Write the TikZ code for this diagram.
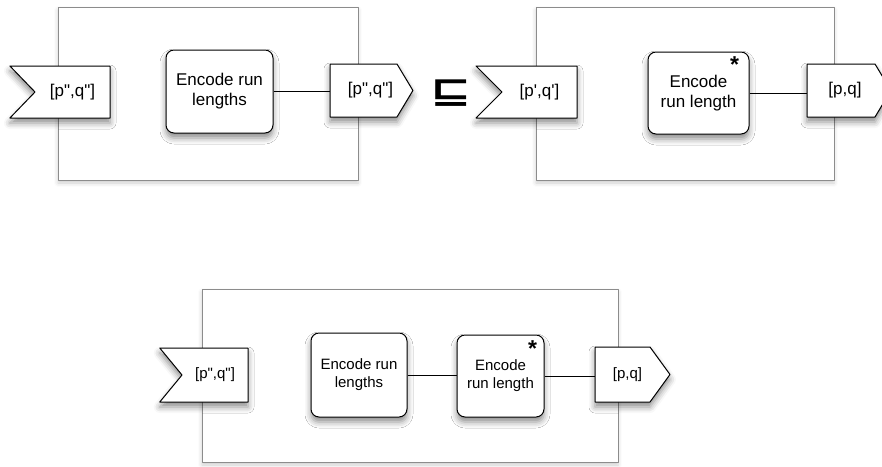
\documentclass[tikz,border=0pt]{standalone}
\usepackage{fontspec}
\newfontfamily\diagfont{Liberation Sans}
\newfontfamily\relfont{DejaVu Sans}
\usetikzlibrary{shapes.symbols}
\usetikzlibrary{shadows.blur}
\usetikzlibrary{positioning}
\tikzstyle{frame} = [draw=black!45, fill=white, line width=1pt,
    blur shadow={shadow xshift=0pt, shadow yshift=-3pt, shadow blur radius=4pt, shadow opacity=20}]
\tikzstyle{task} = [draw, fill=white, line width=1pt, rounded corners=8pt, align=center,
    blur shadow={shadow xshift=0pt, shadow yshift=-5pt, shadow blur radius=6pt, shadow opacity=45}]
\tikzstyle{port} = [draw, fill=white, line width=1pt, signal, inner sep=0pt, align=center,
    blur shadow={shadow xshift=0pt, shadow yshift=-5pt, shadow blur radius=6pt, shadow opacity=45}]
\tikzstyle{portin} = [port, signal from=west, signal to=nowhere]
\tikzstyle{portout} = [port, signal from=nowhere, signal to=east]
\tikzstyle{repeated} = [inner sep=0pt, font=\diagfont\bfseries\fontsize{23}{23}\selectfont]
\tikzstyle{big} = [font=\diagfont\fontsize{17}{20}\selectfont]
\tikzstyle{small} = [font=\diagfont\fontsize{15}{18}\selectfont]

\begin{document}
\begin{tikzpicture}[x=1pt, y=-1pt, line join=round]
    \clip (0,0) rectangle (882,466);
    \useasboundingbox (0,0) rectangle (882,466);
    % the three enclosing frames
    \draw [frame] (58,7) rectangle (358,180);
    \draw [frame] (536,7) rectangle (834,180);
    \draw [frame] (202,289) rectangle (618,462);
    % left-hand side of the refinement
    \node [portin, big, text width=75pt, minimum height=52pt,
           signal pointer angle=92] (inA) at (72.5,92) {[p",q"]};
    \node [task, big, minimum width=107pt, minimum height=83pt] (encA) at (219.5,91.5)
        {Encode run\\lengths};
    \node [portout, big, text width=67pt, minimum height=53pt,
           signal pointer angle=118] (outA) at (363.5,90.5) {\hspace*{14pt}[p",q"]};
    \draw [line width=0.8pt] (encA.east) -- (encA.east -| outA.west);
    % refinement sign
    \node [font=\relfont\bfseries\fontsize{34}{34}\selectfont, xscale=1.45, transform shape]
        (refines) at (451,93) {⊑};
    % right-hand side
    \node [portin, big, text width=75pt, minimum height=52pt,
           signal pointer angle=90] (inB) at (539.5,92) {[p',q']};
    \node [task, big, minimum width=101pt, minimum height=82pt] (encB) at (698.5,93)
        {Encode\\run length};
    \node [repeated] (starB) at ([shift={(-15,13)}]encB.north east) {*};
    \node [portout, big, text width=68pt, minimum height=53pt,
           signal pointer angle=118] (outB) at (841,90.5) {\hspace*{8pt}[p,q]};
    \draw [line width=0.8pt] (encB.east) -- (encB.east -| outB.west);
    % composed result below
    \node [portin, small, text width=66pt, minimum height=54pt,
           signal pointer angle=101] (inC) at (215,375) {[p",q"]};
    \node [task, small, minimum width=96pt, minimum height=84pt] (encC) at (359,375)
        {Encode run\\lengths};
    \node [task, small, minimum width=87pt, minimum height=82pt] (encD) at (500.5,376)
        {Encode\\run length};
    \node [repeated] (starD) at ([shift={(-12,14)}]encD.north east) {*};
    \node [portout, small, text width=55pt, minimum height=55pt,
           signal pointer angle=108] (outC) at (622.5,374.5) {\hspace*{10pt}[p,q]};
    \draw [line width=0.8pt] (encC.east) -- (encC.east -| encD.west);
    \draw [line width=0.8pt] (encD.east) -- (encD.east -| outC.west);
\end{tikzpicture}
\end{document}
